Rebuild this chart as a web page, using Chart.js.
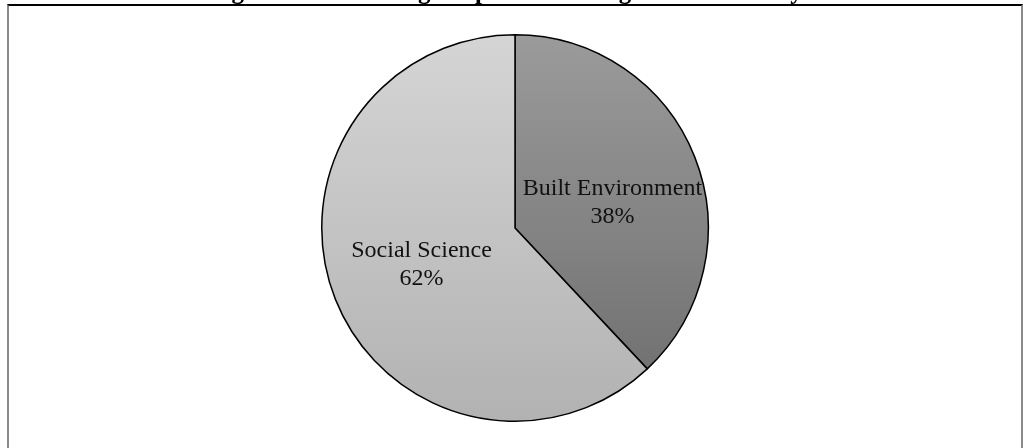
<!DOCTYPE html>
<html>
<head>
<meta charset="utf-8">
<script src="https://cdn.jsdelivr.net/npm/chart.js@4.4.1/dist/chart.umd.min.js"></script>
<style>
html,body{margin:0;padding:0;background:#fff;overflow:hidden;}
#wrap{position:relative;width:1023px;height:448px;}
#frame{position:absolute;left:7px;top:4px;width:1012px;height:460px;border-top:2px solid #000;border-left:2px solid #8a8a8a;border-right:2px solid #8a8a8a;pointer-events:none;}
canvas{position:absolute;left:0;top:0;}
</style>
</head>
<body>
<div id="wrap">
<canvas id="c" width="1023" height="448"></canvas>
<div id="frame"></div>
</div>
<script>
const titleText = "Figure 11: Percentage of patents among Staff in Faculty";
const categories = ["Built Environment", "Social Science"];
const values = [38, 62];
const percentLabels = ["38%", "62%"];
const gradientTops = ["#9b9b9b", "#d5d5d5"];
const gradientBottoms = ["#6c6c6c", "#b2b2b2"];

function sliceFill(ctx) {
  const chart = ctx.chart;
  const area = chart.chartArea;
  if (!area) return gradientTops[ctx.dataIndex];
  const g = chart.ctx.createLinearGradient(0, area.top, 0, area.bottom);
  g.addColorStop(0, gradientTops[ctx.dataIndex]);
  g.addColorStop(1, gradientBottoms[ctx.dataIndex]);
  return g;
}

const labelNudge = [{dx: 4, dy: 12}, {dx: 0, dy: 0}];

const labelPlugin = {
  id: 'sliceLabels',
  afterDatasetsDraw(chart) {
    const ctx = chart.ctx;
    const meta = chart.getDatasetMeta(0);
    ctx.save();
    ctx.fillStyle = '#111';
    ctx.font = '24px "Liberation Serif", "Times New Roman", serif';
    ctx.textAlign = 'center';
    ctx.textBaseline = 'middle';
    meta.data.forEach((arc, i) => {
      const p = arc.getProps(['x','y','startAngle','endAngle','outerRadius'], true);
      const mid = (p.startAngle + p.endAngle) / 2;
      const r = p.outerRadius * 0.52;
      const cx = p.x + Math.cos(mid) * r + labelNudge[i].dx;
      const cy = p.y + Math.sin(mid) * r + labelNudge[i].dy;
      ctx.fillText(categories[i], cx, cy - 14);
      ctx.fillText(percentLabels[i], cx, cy + 14);
    });
    ctx.restore();
  }
};

const titlePlugin = {
  id: 'cutTitle',
  afterDraw(chart) {
    const ctx = chart.ctx;
    ctx.save();
    ctx.fillStyle = '#000';
    ctx.font = 'bold 25px "Liberation Serif", "Times New Roman", serif';
    ctx.textAlign = 'center';
    ctx.textBaseline = 'alphabetic';
    ctx.fillText(titleText, 506, -1);
    ctx.restore();
  }
};

new Chart(document.getElementById('c'), {
  type: 'pie',
  data: {
    labels: categories,
    datasets: [{
      data: values,
      backgroundColor: sliceFill,
      borderColor: '#000',
      borderWidth: 1.5
    }]
  },
  options: {
    responsive: false,
    animation: false,
    rotation: 0,
    layout: { padding: { top: 34, bottom: 26, left: 7, right: 0 } },
    plugins: {
      legend: { display: false },
      tooltip: { enabled: false },
      title: { display: false }
    }
  },
  plugins: [labelPlugin, titlePlugin]
});
</script>
</body>
</html>
